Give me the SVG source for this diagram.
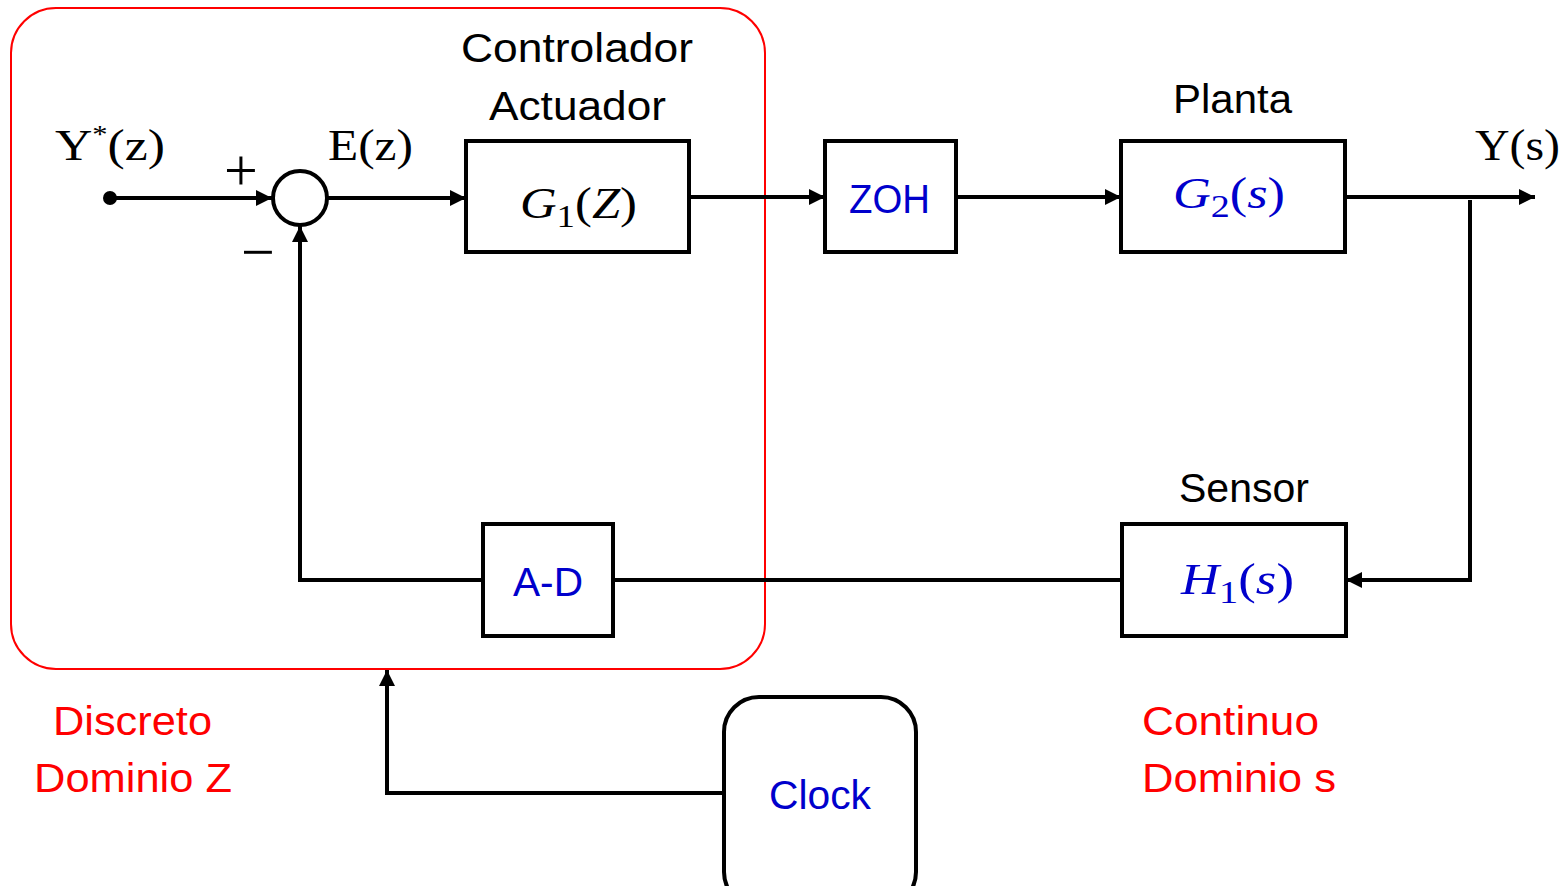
<svg xmlns="http://www.w3.org/2000/svg" width="1565" height="886" viewBox="0 0 1565 886">
<style>
.box{fill:#fff;stroke:#000;stroke-width:4}
.ln{fill:none;stroke:#000;stroke-width:4}
.sans{font-family:"Liberation Sans",Arial,sans-serif;font-size:41px}
.ser{font-family:"Liberation Serif","DejaVu Serif",serif;font-size:44px}
.sign{font-family:"Liberation Serif","DejaVu Serif",serif;font-size:60px}
.blue{fill:#0000CC}
.red{fill:#FF0000}
.it{font-style:italic}
</style>
<defs>
<marker id="ah" viewBox="0 0 10 10" refX="10" refY="5" markerWidth="4" markerHeight="4" markerUnits="strokeWidth" orient="auto">
<path d="M0,0 L10,5 L0,10 z" fill="#000"/>
</marker>
</defs>
<rect id="discrete-region" x="11" y="8" width="754" height="661" rx="45" fill="none" stroke="#FF0000" stroke-width="2"/>
<g id="connectors">
<path class="ln" d="M110,198 L272,198" marker-end="url(#ah)"/>
<path class="ln" d="M327,198 L466,198" marker-end="url(#ah)"/>
<path class="ln" d="M689,197 L825,197" marker-end="url(#ah)"/>
<path class="ln" d="M956,197 L1121,197" marker-end="url(#ah)"/>
<path class="ln" d="M1345,197 L1535,197" marker-end="url(#ah)"/>
<path class="ln" d="M1470,200 L1470,580 L1346,580" marker-end="url(#ah)"/>
<path class="ln" d="M1122,580 L613,580"/>
<path class="ln" d="M483,580 L300,580 L300,226" marker-end="url(#ah)"/>
<path class="ln" d="M724,793 L387,793 L387,670" marker-end="url(#ah)"/>
<circle cx="110" cy="198" r="7" fill="#000"/>
</g>
<g id="sum">
<circle cx="300" cy="198" r="27" fill="#fff" stroke="#000" stroke-width="4"/>
<text class="sign" x="241" y="190" text-anchor="middle">+</text>
<text class="sign" x="258" y="272" text-anchor="middle">−</text>
</g>
<g id="labels">
<text class="ser" x="55" y="160" textLength="110" lengthAdjust="spacingAndGlyphs">Y<tspan font-size="26" dy="-17">*</tspan><tspan dy="17">(z)</tspan></text>
<text class="ser" x="328" y="160" textLength="85" lengthAdjust="spacingAndGlyphs">E(z)</text>
<text class="ser" x="1475" y="160" textLength="85" lengthAdjust="spacingAndGlyphs">Y(s)</text>
</g>
<g id="g1">
<rect class="box" x="466" y="141" width="223" height="111"/>
<text class="sans" x="461" y="62" textLength="232" lengthAdjust="spacingAndGlyphs">Controlador</text>
<text class="sans" x="489" y="120" textLength="177" lengthAdjust="spacingAndGlyphs">Actuador</text>
<text class="ser" x="520" y="218" textLength="117" lengthAdjust="spacingAndGlyphs"><tspan class="it">G</tspan><tspan font-size="32" dy="9">1</tspan><tspan dy="-9">(</tspan><tspan class="it">Z</tspan>)</text>
</g>
<g id="zoh">
<rect class="box" x="825" y="141" width="131" height="111"/>
<text class="sans blue" x="849" y="213" textLength="81" lengthAdjust="spacingAndGlyphs">ZOH</text>
</g>
<g id="g2">
<rect class="box" x="1121" y="141" width="224" height="111"/>
<text class="sans" x="1173" y="113" textLength="119" lengthAdjust="spacingAndGlyphs">Planta</text>
<text class="ser blue" x="1173" y="208" textLength="112" lengthAdjust="spacingAndGlyphs"><tspan class="it">G</tspan><tspan font-size="32" dy="9">2</tspan><tspan dy="-9">(</tspan><tspan class="it">s</tspan>)</text>
</g>
<g id="h1">
<rect class="box" x="1122" y="524" width="224" height="112"/>
<text class="sans" x="1179" y="502" textLength="130" lengthAdjust="spacingAndGlyphs">Sensor</text>
<text class="ser blue" x="1181" y="594" textLength="113" lengthAdjust="spacingAndGlyphs"><tspan class="it">H</tspan><tspan font-size="32" dy="9">1</tspan><tspan dy="-9">(</tspan><tspan class="it">s</tspan>)</text>
</g>
<g id="ad">
<rect class="box" x="483" y="524" width="130" height="112"/>
<text class="sans blue" x="513" y="596" textLength="70" lengthAdjust="spacingAndGlyphs">A-D</text>
</g>
<g id="clock">
<rect class="box" x="724" y="697" width="192" height="210" rx="35"/>
<text class="sans blue" x="769" y="809" textLength="102" lengthAdjust="spacingAndGlyphs">Clock</text>
</g>
<g id="domains">
<text class="sans red" x="53" y="735" textLength="159" lengthAdjust="spacingAndGlyphs">Discreto</text>
<text class="sans red" x="34" y="792" textLength="198" lengthAdjust="spacingAndGlyphs">Dominio Z</text>
<text class="sans red" x="1142" y="735" textLength="177" lengthAdjust="spacingAndGlyphs">Continuo</text>
<text class="sans red" x="1142" y="792" textLength="194" lengthAdjust="spacingAndGlyphs">Dominio s</text>
</g>
</svg>
